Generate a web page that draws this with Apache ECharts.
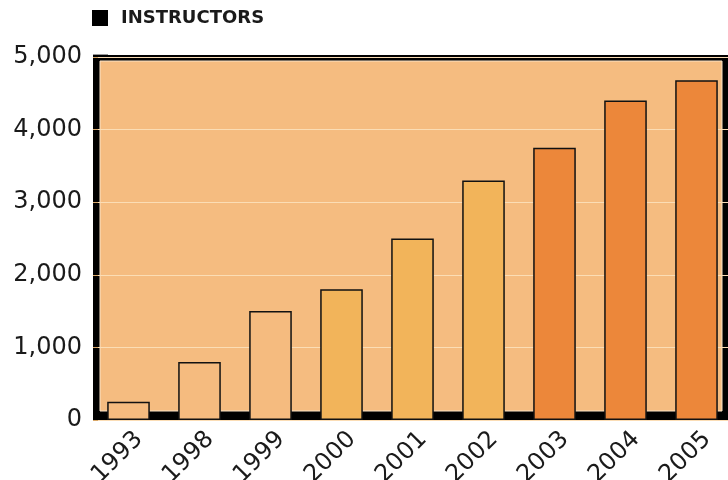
<!DOCTYPE html>
<html>
<head>
<meta charset="utf-8">
<script src="https://cdn.jsdelivr.net/npm/echarts@6/dist/echarts.min.js"></script>
<style>html,body{margin:0;padding:0;background:#fff}#c{width:728px;height:480px}</style>
</head>
<body>
<div id="c"></div>
<script>
var categories = ['1993','1998','1999','2000','2001','2002','2003','2004','2005'];
var instructors = [250, 800, 1500, 1800, 2500, 3300, 3750, 4400, 4680];
var barColors = ['#F5BB7F','#F5BB7F','#F5BB7F','#F2B45A','#F2B45A','#F2B45A','#EC873A','#EC873A','#EC873A'];
var seriesName = 'INSTRUCTORS';

var chart = echarts.init(document.getElementById('c'), null, {renderer: 'canvas'});
chart.setOption({
  animation: false,
  backgroundColor: '#ffffff',
  textStyle: {fontFamily: 'DejaVu Sans, sans-serif'},
  legend: {
    left: 87, top: 4,
    icon: 'rect', itemWidth: 16, itemHeight: 16,
    itemStyle: {color: '#000', borderWidth: 0},
    textStyle: {fontFamily: 'DejaVu Sans', fontSize: 18, fontWeight: 'bold', color: '#1a1a1a', padding: [0,0,0,8]},
    data: [seriesName]
  },
  graphic: [
    {type: 'rect', z: -10, shape: {x: 93, y: 55, width: 635, height: 365}, style: {fill: '#000'}},
    {type: 'rect', z: -9, shape: {x: 100, y: 61, width: 622, height: 350}, style: {fill: '#F5BC80', stroke: '#FBE4C8', lineWidth: 1}},
    {type: 'line', z: -9, shape: {x1: 93, y1: 54.5, x2: 108, y2: 54.5}, style: {stroke: '#999', lineWidth: 1}}
  ],
  grid: {left: 93, width: 639, top: 57, bottom: 60, containLabel: false, outerBoundsMode: 'none'},
  xAxis: {
    type: 'category', data: categories,
    axisLine: {show: false}, axisTick: {show: false},
    axisLabel: {rotate: 45, fontSize: 24, color: '#1a1a1a', margin: 5, verticalAlign: 'top', padding: [3, 0, 0, 0], interval: 0}
  },
  yAxis: {
    type: 'value', min: 0, max: 5000, interval: 1000,
    axisLine: {show: false},
    axisTick: {show: true, inside: true, length: 5, lineStyle: {color: '#D9A869'}},
    axisLabel: {fontSize: 24, color: '#1a1a1a', margin: 11,
      formatter: function (v) { return v.toLocaleString('en-US'); }},
    splitLine: {show: true, lineStyle: {color: '#FBDDB5', width: 1}}
  },
  series: [{
    name: seriesName, type: 'bar', barWidth: '60%',
    itemStyle: {color: '#000'},
    data: instructors.map(function (v, i) {
      return {value: v, itemStyle: {color: barColors[i], borderColor: '#111', borderWidth: 1.5}};
    })
  }]
});
</script>
</body>
</html>
